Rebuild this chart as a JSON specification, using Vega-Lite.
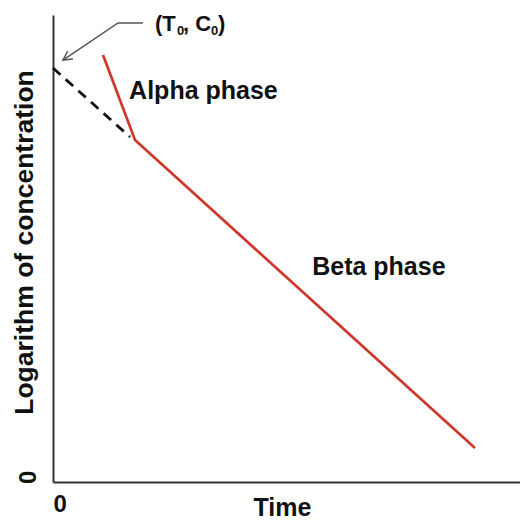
{
  "$schema": "https://vega.github.io/schema/vega-lite/v6.json",
  "width": 467,
  "height": 467,
  "autosize": "none",
  "padding": {"left": 53, "top": 15, "right": 0, "bottom": 40},
  "background": "white",
  "config": {
    "view": {"stroke": null},
    "font": "Liberation Sans",
    "axis": {"grid": false, "ticks": false, "domainColor": "#333333", "domainWidth": 2,
             "labelFont": "Liberation Sans", "labelFontWeight": "bold", "labelFontSize": 24, "labelColor": "#111111",
             "titleFont": "Liberation Sans", "titleFontWeight": "bold", "titleFontSize": 25, "titleColor": "#111111"}
  },
  "datasets": {
    "lines": [
      {"series": "red", "order": 1, "t": 10.71, "c": 91.43},
      {"series": "red", "order": 2, "t": 17.56, "c": 73.23},
      {"series": "red", "order": 3, "t": 90.36, "c": 7.28},
      {"series": "dash", "order": 1, "t": 0, "c": 88.65},
      {"series": "dash", "order": 2, "t": 16.49, "c": 73.88},
      {"series": "arrow", "order": 1, "t": 19.27, "c": 98.29},
      {"series": "arrow", "order": 2, "t": 13.92, "c": 98.29},
      {"series": "arrow", "order": 3, "t": 2.14, "c": 90.36},
      {"series": "head", "order": 1, "t": 4.28, "c": 90.58},
      {"series": "head", "order": 2, "t": 2.14, "c": 90.36},
      {"series": "head", "order": 3, "t": 3.15, "c": 92.25}
    ],
    "labels": [
      {"label": "(T", "t": 21.84, "c": 96.57, "kind": "main"},
      {"label": "0", "t": 26.55, "c": 95.72, "kind": "sub"},
      {"label": ", C", "t": 27.84, "c": 96.57, "kind": "main"},
      {"label": "0", "t": 33.83, "c": 95.72, "kind": "sub"},
      {"label": ")", "t": 35.33, "c": 96.57, "kind": "main"},
      {"label": "Alpha phase", "t": 16.3, "c": 82.0, "kind": "big"},
      {"label": "Beta phase", "t": 55.5, "c": 44.3, "kind": "big"}
    ]
  },
  "layer": [
    {
      "data": {"name": "lines"},
      "transform": [{"filter": "datum.series === 'red'"}],
      "mark": {"type": "line", "color": "#d0372c", "strokeWidth": 2.7},
      "encoding": {
        "x": {"field": "t", "type": "quantitative", "scale": {"domain": [0, 100]},
              "axis": {"values": [0], "title": "Time", "labelPadding": 10, "labelFontSize": 24,
                       "titleX": 229, "titleY": 33, "titleBaseline": "alphabetic", "titleAlign": "center"}},
        "y": {"field": "c", "type": "quantitative", "scale": {"domain": [0, 100]},
              "axis": {"values": [0], "title": "Logarithm of concentration", "labelAngle": 90, "labelPadding": 16, "labelOffset": -5,
                       "titleFontSize": 26.5, "titleX": -29, "titleY": 227, "titleAngle": -90, "titleBaseline": "middle", "titleAlign": "center"}},
        "order": {"field": "order", "type": "quantitative"}
      }
    },
    {
      "data": {"name": "lines"},
      "transform": [{"filter": "datum.series === 'dash'"}],
      "mark": {"type": "line", "color": "#111111", "strokeWidth": 2.8, "strokeDash": [10, 7]},
      "encoding": {
        "x": {"field": "t", "type": "quantitative"},
        "y": {"field": "c", "type": "quantitative"},
        "order": {"field": "order", "type": "quantitative"}
      }
    },
    {
      "data": {"name": "lines"},
      "transform": [{"filter": "datum.series === 'arrow' || datum.series === 'head'"}],
      "mark": {"type": "line", "color": "#555555", "strokeWidth": 1.5},
      "encoding": {
        "x": {"field": "t", "type": "quantitative"},
        "y": {"field": "c", "type": "quantitative"},
        "detail": {"field": "series"},
        "order": {"field": "order", "type": "quantitative"}
      }
    },
    {
      "data": {"name": "labels"},
      "transform": [{"filter": "datum.kind === 'main'"}],
      "mark": {"type": "text", "align": "left", "baseline": "alphabetic", "fontSize": 22, "fontWeight": "bold", "color": "#111111", "font": "Liberation Sans"},
      "encoding": {
        "x": {"field": "t", "type": "quantitative"},
        "y": {"field": "c", "type": "quantitative"},
        "text": {"field": "label"}
      }
    },
    {
      "data": {"name": "labels"},
      "transform": [{"filter": "datum.kind === 'sub'"}],
      "mark": {"type": "text", "align": "left", "baseline": "alphabetic", "fontSize": 13, "fontWeight": "bold", "color": "#111111", "font": "Liberation Sans"},
      "encoding": {
        "x": {"field": "t", "type": "quantitative"},
        "y": {"field": "c", "type": "quantitative"},
        "text": {"field": "label"}
      }
    },
    {
      "data": {"name": "labels"},
      "transform": [{"filter": "datum.kind === 'big'"}],
      "mark": {"type": "text", "align": "left", "baseline": "alphabetic", "fontSize": 25, "fontWeight": "bold", "color": "#111111", "font": "Liberation Sans"},
      "encoding": {
        "x": {"field": "t", "type": "quantitative"},
        "y": {"field": "c", "type": "quantitative"},
        "text": {"field": "label"}
      }
    }
  ]
}
